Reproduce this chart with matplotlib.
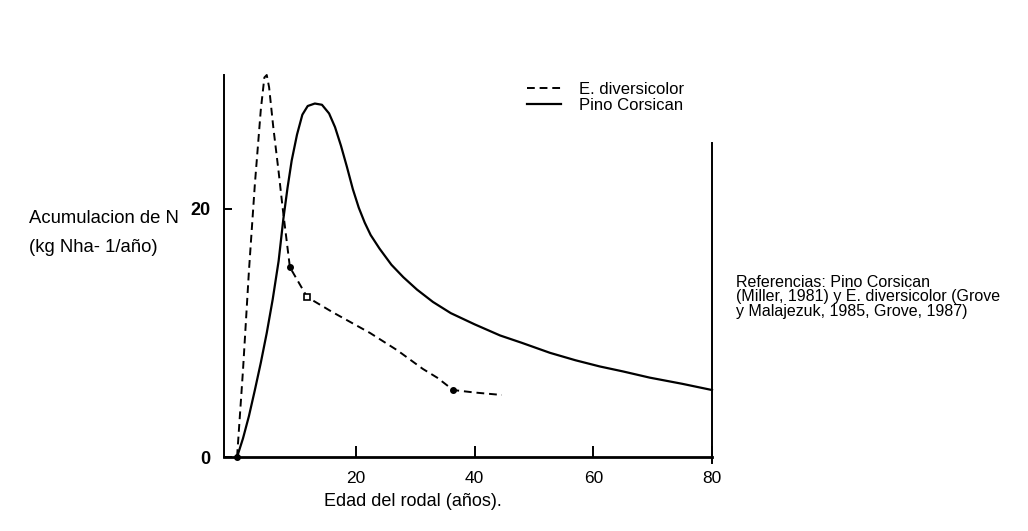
import matplotlib
matplotlib.use("Agg")
import matplotlib.pyplot as plt

plt.rcParams['font.family'] = ['Liberation Sans', 'DejaVu Sans']

# Pino Corsican (solid)
pino_x = [0, 1, 2, 3, 4, 5, 6, 7, 7.8, 8.5, 9.2, 10.1, 11.0, 11.9, 13.1, 14.3, 15.5,
          16.5, 17.5, 18.5, 19.5, 20.5, 21.5, 22.5, 24.0, 26.0, 28.0, 30.3, 33.0,
          36.0, 40.0, 44.3, 48.0, 52.7, 57.0, 61.1, 65.0, 69.5, 75.0, 80.0]
pino_y = [0, 1.5, 3.3, 5.4, 7.6, 10.0, 12.7, 15.8, 19.2, 21.7, 23.9, 26.0, 27.6, 28.3,
          28.5, 28.4, 27.7, 26.6, 25.1, 23.4, 21.6, 20.1, 18.9, 17.9, 16.8, 15.5,
          14.5, 13.5, 12.5, 11.6, 10.7, 9.8, 9.2, 8.4, 7.8, 7.3, 6.9, 6.4, 5.9, 5.4]

# E. diversicolor (dashed)
euc_x = [0, 1.0, 2.0, 3.0, 4.0, 4.6, 5.0, 5.4, 6.1, 7.0, 7.7, 8.9, 11.8, 16.0, 22.4,
         27.0, 31.3, 33.7, 36.4, 40.0, 44.6]
euc_y = [0, 7.0, 15.0, 22.0, 28.0, 30.6, 30.8, 29.8, 26.6, 23.0, 20.0, 15.3, 12.9, 11.7,
         10.0, 8.6, 7.1, 6.4, 5.4, 5.2, 5.0]
euc_circle_idx = [0, 11, 18]
euc_square_idx = [12]

xticks = [20, 40, 60, 80]
yticks = [0, 20]

fig = plt.figure(figsize=(10.28, 5.31), dpi=100)
ax = fig.add_axes([224 / 1028, 1 - 457 / 531, (712 - 224) / 1028, (457 - 75) / 531])

ax.plot(pino_x, pino_y, color='black', lw=1.6, label='Pino Corsican', clip_on=False)
ax.plot(euc_x, euc_y, color='black', lw=1.4, ls=(0, (4, 2.5)), label='E. diversicolor',
        clip_on=False)
ax.plot([euc_x[i] for i in euc_circle_idx], [euc_y[i] for i in euc_circle_idx],
        ls='none', marker='o', ms=4, color='black', clip_on=False)
ax.plot([euc_x[i] for i in euc_square_idx], [euc_y[i] for i in euc_square_idx],
        ls='none', marker='s', ms=4, mfc='white', mec='black', mew=1.2, clip_on=False)

ax.set_xlim(-2.2, 80)
ax.set_ylim(0, 30.8)
ax.spines['top'].set_visible(False)
ax.spines['right'].set_bounds(-0.5, 25.3)
for s in ax.spines.values():
    s.set_linewidth(1.4)
ax.spines['bottom'].set_linewidth(2.0)

ax.set_xticks(xticks)
ax.set_xticklabels([str(v) for v in xticks], fontsize=12.5)
ax.set_yticks(yticks)
ax.set_yticklabels([str(v) for v in yticks], fontsize=13, fontweight='bold')
ax.tick_params(axis='x', direction='in', length=8, width=1.4, pad=10)
ax.tick_params(axis='y', direction='in', length=6, width=1.4, pad=10)

ax.set_xlabel('Edad del rodal (años).', fontsize=13)
ax.xaxis.set_label_coords(0.387, -0.095)

fig.text(29 / 1028, 1 - 218 / 531, 'Acumulacion de N', fontsize=13.3, va='center', ha='left')
fig.text(29 / 1028, 1 - 248 / 531, '(kg Nha- 1/año)', fontsize=13.3, va='center', ha='left')

fig.text(736 / 1028, 1 - 297 / 531,
         'Referencias: Pino Corsican\n(Miller, 1981) y E. diversicolor (Grove\ny Malajezuk, 1985, Grove, 1987)',
         fontsize=11.5, va='center', ha='left', linespacing=0.92)

handles, labels = ax.get_legend_handles_labels()
leg = ax.legend(handles[::-1], labels[::-1], frameon=False, fontsize=12,
                loc='upper left', bbox_to_anchor=(519 / 1028, 1 - 74 / 531),
                bbox_transform=fig.transFigure, handlelength=2.0, handletextpad=1.1,
                labelspacing=0.05, borderpad=0)

fig.savefig('out.png', dpi=100)
